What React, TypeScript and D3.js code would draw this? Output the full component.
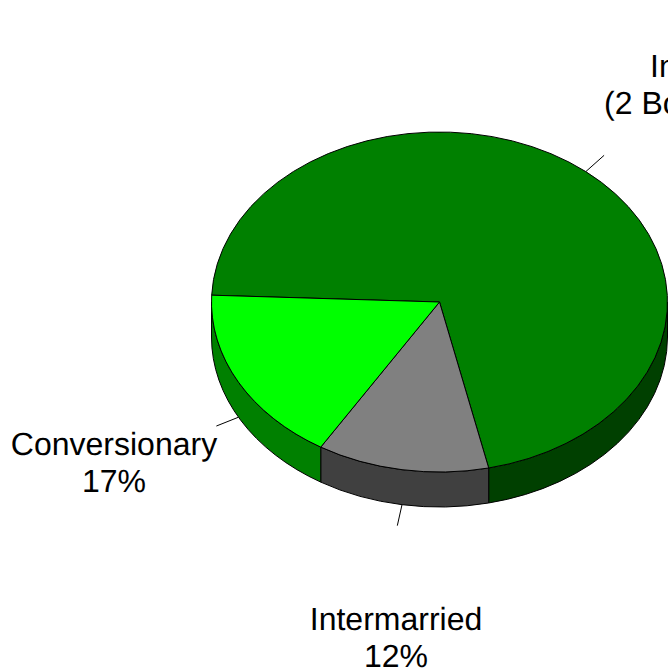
import React from "react";
import * as d3 from "d3";

const categories = ["In-married", "Intermarried", "Conversionary"];
const values = [70.9, 12.18, 16.92];
const topColors = ["#008000", "#808080", "#00ff00"];
const sideColors = ["#004000", "#404040", "#008000"];
const labelLines = [
  ["In-married", "(2 Born Parents)", "71%"],
  ["Intermarried", "12%"],
  ["Conversionary", "17%"],
];
const labelAnchors = [
  { x: 723, y: 77 },
  { x: 396, y: 630 },
  { x: 114, y: 455 },
];
const lineNudge = [
  [0, -1.5, 0],
  [0, 0],
  [0, 0],
];
const leadScale = [1.125, 1.125, 1.11];

const W = 668, H = 672;
const cx = 439.5, cy = 302, rx = 228, ry = 170, depth = 35;
const FONT = "'Liberation Sans', Arial, sans-serif";

const pie = d3.pie<number>().sort(null).startAngle((272.3 * Math.PI) / 180).endAngle((632.3 * Math.PI) / 180);
const arcs = pie(values);
const arcGen = d3.arc<d3.PieArcDatum<number>>().innerRadius(0).outerRadius(rx);

const pt = (a: number, dy = 0, k = 1): [number, number] => [
  cx + rx * k * Math.sin(a),
  cy - ry * k * Math.cos(a) + dy,
];

// Front wall of the slice: the part of its rim between 90° and 270° in d3 pie angles
function sidePath(a0: number, a1: number): string | null {
  const TAU = Math.PI * 2;
  for (const shift of [0, TAU, -TAU]) {
    const s = Math.max(a0 + shift, Math.PI / 2);
    const e = Math.min(a1 + shift, (3 * Math.PI) / 2);
    if (e <= s) continue;
    const [x0, y0] = pt(s);
    const [x1, y1] = pt(e);
    return `M${x0},${y0}A${rx},${ry} 0 0 1 ${x1},${y1}L${x1},${y1 + depth}A${rx},${ry} 0 0 0 ${x0},${y0 + depth}Z`;
  }
  return null;
}

export default function App() {
  return (
    <svg width={W} height={H} viewBox={`0 0 ${W} ${H}`} style={{ position: "absolute", left: 0, top: 0, background: "#fff" }}>
      {arcs.map((d, i) => {
        const mid = (d.startAngle + d.endAngle) / 2;
        const front = Math.cos(mid) < 0;
        const dy = front ? depth : 0;
        const [x0, y0] = pt(mid, dy);
        const [x1, y1] = pt(mid, dy, leadScale[i]);
        return <line key={i} x1={x0} y1={y0} x2={x1} y2={y1} stroke="#000" strokeWidth={1} />;
      })}
      {arcs.map((d, i) => {
        const s = sidePath(d.startAngle, d.endAngle);
        return s ? <path key={i} d={s} fill={sideColors[i]} stroke="#000" strokeWidth={1} strokeLinejoin="round" /> : null;
      })}
      <g transform={`translate(${cx},${cy}) scale(1,${ry / rx})`}>
        {arcs.map((d, i) => (
          <path
            key={categories[i]}
            d={arcGen(d) as string}
            fill={topColors[i]}
            stroke="#000"
            strokeWidth={1}
            strokeLinejoin="round"
            vectorEffect="non-scaling-stroke"
          />
        ))}
      </g>
      {labelLines.map((lines, i) => (
        <text key={i} fontFamily={FONT} fontSize={32} fill="#000" textAnchor="middle" textRendering="geometricPrecision">
          {lines.map((t, j) => (
            <tspan key={j} x={labelAnchors[i].x + lineNudge[i][j]} y={labelAnchors[i].y + j * 37}>
              {t}
            </tspan>
          ))}
        </text>
      ))}
    </svg>
  );
}
